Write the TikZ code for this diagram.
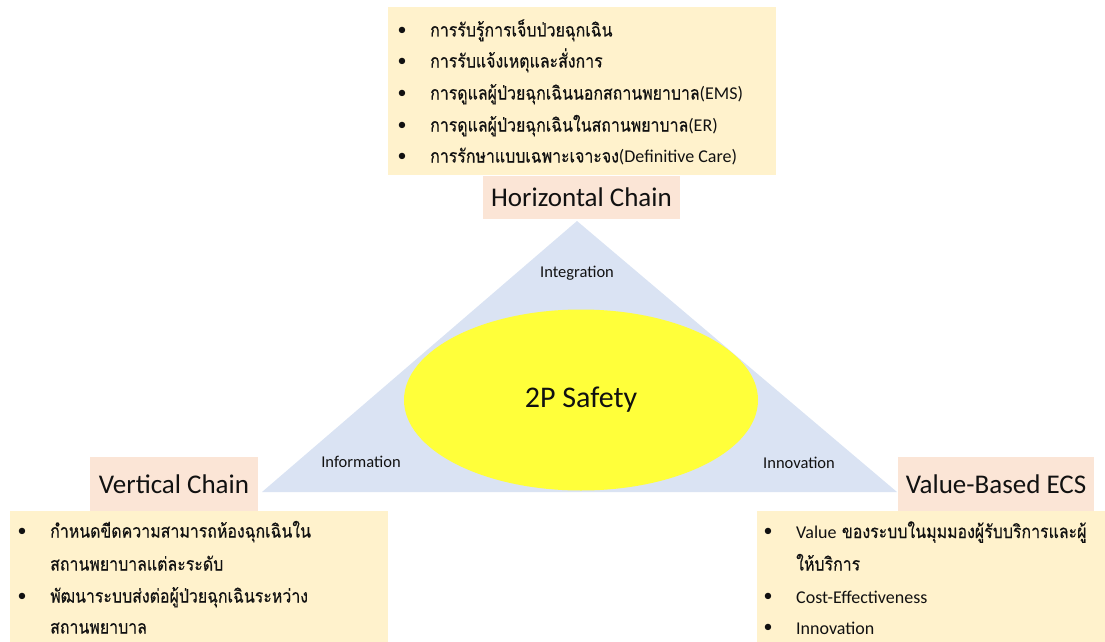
\documentclass[tikz,border=0pt]{standalone}
\usepackage{fontspec}
\setmainfont{Carlito}
\newfontfamily\thai[Script=Thai,FakeStretch=0.86,FakeBold=0.4]{Loma}
\usetikzlibrary{shapes.geometric}
\definecolor{boxy}{HTML}{FFF2CC}
\definecolor{boxp}{HTML}{FBE5D6}
\definecolor{tri}{HTML}{DAE3F3}
\definecolor{ell}{HTML}{FFFF3A}
\definecolor{ink}{HTML}{111111}
\newcommand{\lat}[1]{{\rmfamily\fontsize{18}{20}\selectfont #1}}
\begin{document}
\begin{tikzpicture}[x=1pt,y=-1pt,
  panel/.style={rectangle,fill=boxy,draw=none,inner sep=0pt},
  tagbox/.style={rectangle,fill=boxp,draw=none,inner sep=0pt,text=ink,font=\fontsize{27}{30}\selectfont},
  item/.style={anchor=base west,inner sep=0pt,text=ink,font=\thai\fontsize{18.5}{21}\selectfont},
  bul/.style={inner sep=0pt,text=ink,font=\fontsize{18}{20}\selectfont},
  lab/.style={inner sep=0pt,text=ink,font=\fontsize{16.5}{18}\selectfont}]
\useasboundingbox (0,0) rectangle (1105,642);
% triangle
\coordinate (apex) at (577,221);
\coordinate (bl) at (262,492);
\coordinate (br) at (897,492);
\fill[tri] (apex) -- (bl) -- (br) -- cycle;
\node[ellipse,fill=ell,minimum width=354pt,minimum height=181pt,inner sep=0pt,text=ink,font=\fontsize{30}{33}\selectfont] (core) at (581,400) {2P Safety};
\node[lab] (integ) at (577,273) {Integration};
\node[lab] (info) at (361,462) {Information};
\node[lab] (innov) at (799,463) {Innovation};
% top panel
\node[panel,minimum width=388pt,minimum height=168pt] (toppanel) at (582,91) {};
\node[tagbox,minimum width=197pt,minimum height=43pt] (hchain) at (581.5,197) {Horizontal Chain};
\foreach \yy/\tx [count=\i] in {
  31/{การรับรู้การเจ็บป่วยฉุกเฉิน},
  62/{การรับแจ้งเหตุและสั่งการ},
  94/{การดูแลผู้ป่วยฉุกเฉินนอกสถานพยาบาล\lat{(EMS)}},
  126/{การดูแลผู้ป่วยฉุกเฉินในสถานพยาบาล\lat{(ER)}},
  157/{การรักษาแบบเฉพาะเจาะจง\lat{(Definitive Care)}}}{
  \node[bul] (tb\i) at (402,\yy) {•};
  \node[item] (tt\i) at (430,\yy+5.5) {\tx};
}
% left
\node[tagbox,minimum width=168pt,minimum height=54pt] (vchain) at (174,484) {Vertical Chain};
\node[panel,minimum width=378pt,minimum height=132pt] (leftpanel) at (199,577) {};
\node[bul] (lb1) at (22,532) {•};
\node[item] (lt1) at (50,537.5) {กำหนดขีดความสามารถห้องฉุกเฉินใน};
\node[item] (lt2) at (50,570.5) {สถานพยาบาลแต่ละระดับ};
\node[bul] (lb2) at (22,597) {•};
\node[item] (lt3) at (50,602.5) {พัฒนาระบบส่งต่อผู้ป่วยฉุกเฉินระหว่าง};
\node[item] (lt4) at (50,633.5) {สถานพยาบาล};
% right
\node[tagbox,minimum width=196pt,minimum height=54pt] (value) at (996,484) {Value-Based ECS};
\node[panel,minimum width=349pt,minimum height=132pt] (rightpanel) at (931.5,577) {};
\node[bul] (rb1) at (768,532) {•};
\node[item] (rt1) at (796,538) {\lat{Value} ของระบบในมุมมองผู้รับบริการและผู้};
\node[item] (rt2) at (796,570.5) {ให้บริการ};
\node[bul] (rb2) at (768,597) {•};
\node[item] (rt3) at (796,603.5) {\lat{Cost-Effectiveness}};
\node[bul] (rb3) at (768,628) {•};
\node[item] (rt4) at (796,634) {\lat{Innovation}};
\end{tikzpicture}
\end{document}
